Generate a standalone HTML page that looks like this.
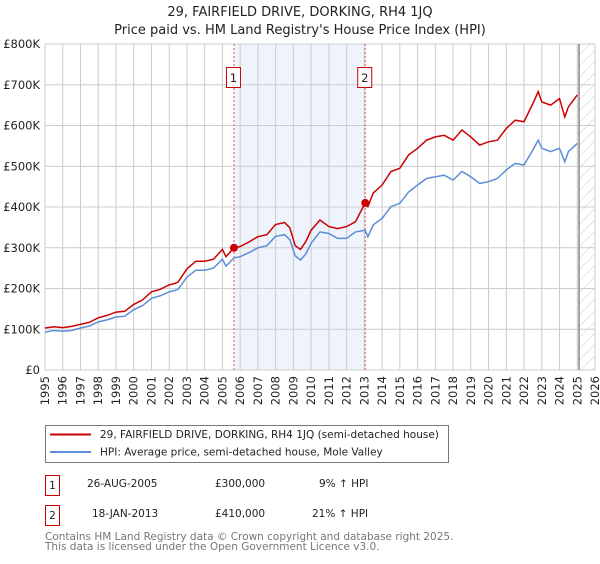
<!DOCTYPE html>
<html><head><meta charset="utf-8"><style>
body{margin:0;background:#fff;font-family:"DejaVu Sans","Liberation Sans",sans-serif;}
svg text{font-family:"DejaVu Sans","Liberation Sans",sans-serif;}
</style></head><body>
<svg id="chart" width="600" height="560" xmlns="http://www.w3.org/2000/svg">
<defs><pattern id="hatch" width="8" height="8" patternUnits="userSpaceOnUse" patternTransform="rotate(45)"><line x1="0" y1="0" x2="0" y2="8" stroke="#ccc" stroke-width="1"/></pattern></defs>
<text x="300" y="16" text-anchor="middle" font-size="13" fill="#222">29, FAIRFIELD DRIVE, DORKING, RH4 1JQ</text>
<text x="300" y="34" text-anchor="middle" font-size="13" fill="#222">Price paid vs. HM Land Registry's House Price Index (HPI)</text>
<g id="grid"></g>
<g id="marks"></g>
<g id="axes"></g>
<g>
<rect x="45.5" y="425.5" width="403" height="37" fill="#fff" stroke="#777"/>
<line x1="50" y1="434.5" x2="91" y2="434.5" stroke="#cc0000" stroke-width="2"/>
<text x="100" y="438" font-size="10.5" fill="#222">29, FAIRFIELD DRIVE, DORKING, RH4 1JQ (semi-detached house)</text>
<line x1="50" y1="452" x2="91" y2="452" stroke="#5b8ed6" stroke-width="2"/>
<text x="100" y="455.5" font-size="10.5" fill="#222">HPI: Average price, semi-detached house, Mole Valley</text>
</g>
<g>
<rect x="45.5" y="475.5" width="14" height="20" fill="#fff" stroke="#cc0000"/>
<text x="52.5" y="489" text-anchor="middle" font-size="10.5" fill="#222">1</text>
<text x="87" y="487" font-size="10.5" fill="#222">26-AUG-2005</text>
<text x="215" y="487" font-size="10.5" fill="#222">£300,000</text>
<text x="319" y="487" font-size="10.5" fill="#222">9% ↑ HPI</text>
<rect x="45.5" y="505.5" width="14" height="20" fill="#fff" stroke="#cc0000"/>
<text x="52.5" y="519" text-anchor="middle" font-size="10.5" fill="#222">2</text>
<text x="92" y="517" font-size="10.5" fill="#222">18-JAN-2013</text>
<text x="215" y="517" font-size="10.5" fill="#222">£410,000</text>
<text x="312" y="517" font-size="10.5" fill="#222">21% ↑ HPI</text>
</g>
<text x="45" y="540" font-size="10.5" fill="#777">Contains HM Land Registry data © Crown copyright and database right 2025.</text>
<text x="45" y="550" font-size="10.5" fill="#777">This data is licensed under the Open Government Licence v3.0.</text>
</svg>
<script>
const years=[1995,1995.5,1996,1996.5,1997,1997.5,1998,1998.5,1999,1999.5,2000,2000.5,2001,2001.5,2002,2002.3,2002.5,2003,2003.5,2004,2004.5,2005,2005.2,2005.65,2006,2006.5,2007,2007.5,2008,2008.5,2008.8,2009.1,2009.4,2009.7,2010,2010.5,2011,2011.5,2012,2012.5,2013.05,2013.2,2013.5,2014,2014.5,2015,2015.5,2016,2016.5,2017,2017.5,2018,2018.5,2019,2019.5,2020,2020.5,2021,2021.5,2022,2022.5,2022.8,2023,2023.5,2024,2024.3,2024.5,2025];
const hpiValues=[93,97,95,97,103,108,118,123,130,132,148,158,176,182,192,195,198,228,245,245,250,272,255,275,278,288,300,305,328,332,320,280,270,285,311,339,335,323,323,339,343,327,356,372,401,409,437,454,470,474,478,466,487,474,458,462,470,491,507,503,540,564,544,536,544,511,536,556];
const priceValues=[103,106,104,107,112,117,128,134,142,144,161,172,192,198,209,212,216,248,267,267,272,296,278,300,303,314,327,332,357,362,349,305,296,315,343,368,352,347,352,364,410,401,434,454,487,495,528,544,564,572,576,564,589,572,552,560,564,593,613,609,654,683,658,650,666,621,646,675];
const saleYears=[2005.65,2013.05];
const saleValues=[300,410];
const saleLabels=["1","2"];
const yTicks=[0,100,200,300,400,500,600,700,800];
const yTickLabels=["£0","£100K","£200K","£300K","£400K","£500K","£600K","£700K","£800K"];
const xTicks=[1995,1996,1997,1998,1999,2000,2001,2002,2003,2004,2005,2006,2007,2008,2009,2010,2011,2012,2013,2014,2015,2016,2017,2018,2019,2020,2021,2022,2023,2024,2025,2026];
const dataEnd=2025.1;

const X0=45,X1=595,Y0=370,Y1=44;
const xs=y=>X0+(y-1995)/(2026-1995)*(X1-X0);
const ys=v=>Y0-v/800*(Y0-Y1);
const NS="http://www.w3.org/2000/svg";
function mk(tag,attrs,parent){const e=document.createElementNS(NS,tag);for(const k in attrs)e.setAttribute(k,attrs[k]);parent.appendChild(e);return e;}
const grid=document.getElementById('grid'),marks=document.getElementById('marks'),axes=document.getElementById('axes');

const shade=mk('rect',{x:xs(saleYears[0]),y:Y1,width:xs(saleYears[1])-xs(saleYears[0]),height:Y0-Y1,fill:'#eef3fc'},grid);


const hatch=mk('rect',{x:xs(dataEnd),y:Y1,width:X1-xs(dataEnd),height:Y0-Y1,fill:'url(#hatch)'},grid);


xTicks.forEach((t,i)=>{
  const l=mk('line',{x1:xs(t),x2:xs(t),y1:Y1,y2:Y0,stroke:'#ccc','stroke-width':1},grid);
  
  
  const tx=mk('text',{x:0,y:0,'font-size':11.5,fill:'#222','text-anchor':'end',transform:`translate(${xs(t)+4},${Y0+6}) rotate(-90)`},axes);
  tx.textContent=t;
  
  
});
yTicks.forEach((t,i)=>{
  const l=mk('line',{x1:X0,x2:X1,y1:ys(t),y2:ys(t),stroke:'#ccc','stroke-width':1},grid);
  
  
  const tx=mk('text',{x:40,y:ys(t)+4,'font-size':11.5,fill:'#222','text-anchor':'end'},axes);
  tx.textContent=yTickLabels[i];
  
  
});
const endLine=mk('line',{x1:xs(dataEnd),x2:xs(dataEnd),y1:Y1,y2:Y0,stroke:'#888','stroke-width':1.5},grid);


saleYears.forEach((s,i)=>{
  const l=mk('line',{x1:xs(s),x2:xs(s),y1:Y1,y2:Y0,stroke:'#ee5555','stroke-width':1,'stroke-dasharray':'2,2'},marks);
  
  
  const b=mk('rect',{x:xs(s)-7.5,y:67.5,width:14,height:20,fill:'#fff',stroke:'#cc0000'},marks);
  
  
  const t=mk('text',{x:xs(s)-0.5,y:82,'font-size':11.5,fill:'#222','text-anchor':'middle'},marks);
  t.textContent=saleLabels[i];
  
  
});
const pts=a=>a.map((v,i)=>xs(years[i]).toFixed(1)+','+ys(v).toFixed(1)).join(' ');
const hl=mk('polyline',{points:pts(hpiValues),fill:'none',stroke:'#5b8ed6','stroke-width':1.5},marks);


const pl=mk('polyline',{points:pts(priceValues),fill:'none',stroke:'#cc0000','stroke-width':1.5},marks);


saleYears.forEach((s,i)=>{
  const c=mk('circle',{cx:xs(s),cy:ys(saleValues[i]),r:4,fill:'#cc0000'},marks);
  
  
});
</script>
</body></html>
